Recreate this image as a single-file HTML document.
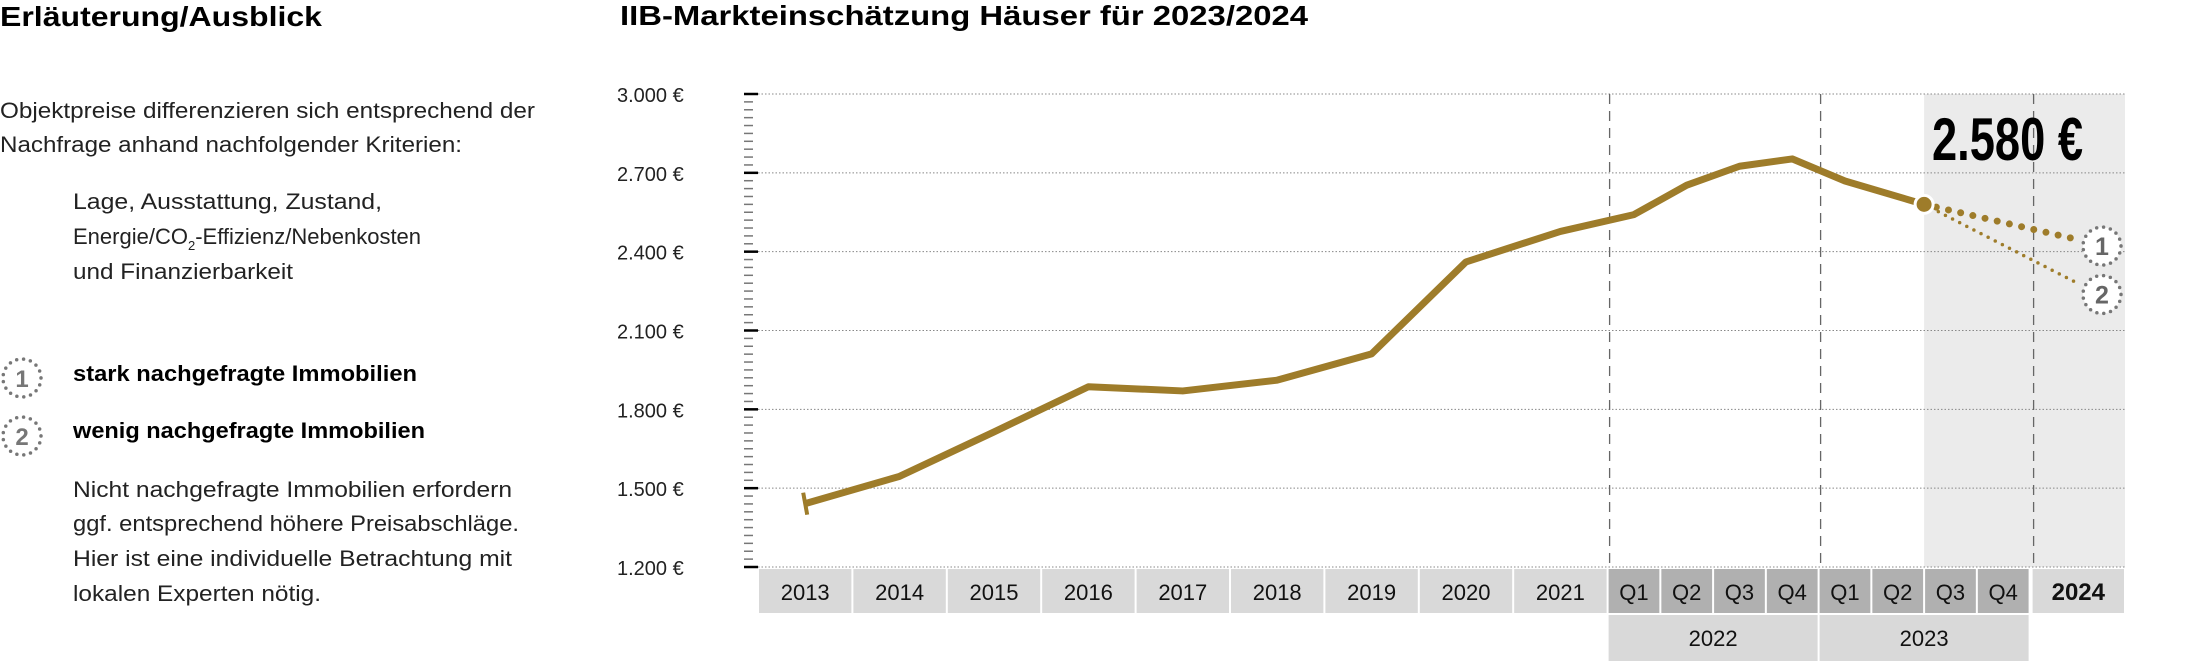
<!DOCTYPE html>
<html><head><meta charset="utf-8"><style>
html,body{margin:0;padding:0;background:#fff;}
svg{display:block;font-family:"Liberation Sans",sans-serif;}
</style></head><body>
<svg id="chart" width="2185" height="661" viewBox="0 0 2185 661" xmlns="http://www.w3.org/2000/svg">
<g>
<text x="0" y="26" font-size="28" font-weight="bold" textLength="322" lengthAdjust="spacingAndGlyphs">Erläuterung/Ausblick</text>
<text x="0" y="118" font-size="22" fill="#222" textLength="535" lengthAdjust="spacingAndGlyphs">Objektpreise differenzieren sich entsprechend der</text>
<text x="0" y="152" font-size="22" fill="#222" textLength="462" lengthAdjust="spacingAndGlyphs">Nachfrage anhand nachfolgender Kriterien:</text>
<text x="73" y="209" font-size="22" fill="#222" textLength="309" lengthAdjust="spacingAndGlyphs">Lage, Ausstattung, Zustand,</text>
<text x="73" y="244" font-size="22" fill="#222">Energie/CO<tspan font-size="13" dy="6">2</tspan><tspan dy="-6">-Effizienz/Nebenkosten</tspan></text>
<text x="73" y="279" font-size="22" fill="#222" textLength="220" lengthAdjust="spacingAndGlyphs">und Finanzierbarkeit</text>
<g>
<circle cx="22" cy="378" r="19" fill="#fff" stroke="#777" stroke-width="3.5" stroke-dasharray="0 7" stroke-linecap="round"/>
<text x="22" y="387" font-size="24" font-weight="bold" fill="#777" text-anchor="middle">1</text>
<text x="73" y="381" font-size="22" font-weight="bold" textLength="344" lengthAdjust="spacingAndGlyphs">stark nachgefragte Immobilien</text>
</g>
<g>
<circle cx="22" cy="436" r="19" fill="#fff" stroke="#777" stroke-width="3.5" stroke-dasharray="0 7" stroke-linecap="round"/>
<text x="22" y="445" font-size="24" font-weight="bold" fill="#777" text-anchor="middle">2</text>
<text x="73" y="438" font-size="22" font-weight="bold" textLength="352" lengthAdjust="spacingAndGlyphs">wenig nachgefragte Immobilien</text>
</g>
<text x="73" y="497" font-size="22" fill="#222" textLength="439" lengthAdjust="spacingAndGlyphs">Nicht nachgefragte Immobilien erfordern</text>
<text x="73" y="531" font-size="22" fill="#222" textLength="446" lengthAdjust="spacingAndGlyphs">ggf. entsprechend höhere Preisabschläge.</text>
<text x="73" y="566" font-size="22" fill="#222" textLength="439" lengthAdjust="spacingAndGlyphs">Hier ist eine individuelle Betrachtung mit</text>
<text x="73" y="601" font-size="22" fill="#222" textLength="248" lengthAdjust="spacingAndGlyphs">lokalen Experten nötig.</text>
</g>
<text x="620" y="25" font-size="28" font-weight="bold" textLength="688" lengthAdjust="spacingAndGlyphs">IIB-Markteinschätzung Häuser für 2023/2024</text>
<g id="plot"></g>
</svg>
<script>
const categories = ["2013","2014","2015","2016","2017","2018","2019","2020","2021","Q1","Q2","Q3","Q4","Q1","Q2"];
const values = [1441,1545,1714,1886,1870,1911,2011,2361,2477,2541,2653,2725,2753,2669,2580];
const forecastCategories = ["Q3","Q4","2024"];
const forecastHigh = 2444;
const forecastLow = 2275;
const yTicks = [1200,1500,1800,2100,2400,2700,3000];
const yTickLabels = ["1.200 €","1.500 €","1.800 €","2.100 €","2.400 €","2.700 €","3.000 €"];
const groupLabels = ["2022","2023"];
const currentLabel = "2.580 €";

const NS="http://www.w3.org/2000/svg";
const g=document.getElementById('plot');
function el(tag,attrs,parent){const e=document.createElementNS(NS,tag);for(const k in attrs)e.setAttribute(k,attrs[k]);(parent||g).appendChild(e);return e;}
const yMin=1200,yMax=3000,yBot=567,yTop=94;
function y(v){return yBot-(v-yMin)*(yBot-yTop)/(yMax-yMin);}
const left=758,yearW=94.4,qStart=758+9*94.4,qW=52.75;
const nYears=9;
// cell bounds for index i (0..8 years, 9..16 quarters, 17 = 2024)
function cellL(i){return i<nYears?left+i*yearW:(i<17?qStart+(i-nYears)*qW:qStart+8*qW+2);}
function cellR(i){return i<nYears?left+(i+1)*yearW:(i<17?qStart+(i-nYears+1)*qW:2125);}
function x(i){return (cellL(i)+cellR(i))/2;}

// background for forecast
let bg=el('rect',{x:cellR(nYears+5),y:yTop,width:2125-cellR(nYears+5),height:yBot-yTop,fill:'#ebebeb'});



// gridlines + y labels + ticks
yTicks.forEach((t,k)=>{
  const gl=el('line',{x1:left,x2:2125,y1:y(t),y2:y(t),stroke:'#888','stroke-width':1,'stroke-dasharray':'1.5 2'});
  
  
  const lb=el('text',{x:617,y:y(t)+8,'font-size':20,fill:'#222'});
  lb.textContent=yTickLabels[k];
  
  
});
for(let v=yMin;v<=yMax;v+=30){
  const major=(v-yMin)%300===0;
  const tk=el('line',{x1:744,x2:major?758:753,y1:y(v),y2:y(v),stroke:major?'#000':'#777','stroke-width':major?2.5:1.5});
  
  
}
// dashed separators
[nYears, nYears+4, nYears+8].forEach(i=>{
  const dl=el('line',{x1:cellL(i)+2,x2:cellL(i)+2,y1:yTop,y2:yBot,stroke:'#666','stroke-width':1.3,'stroke-dasharray':'10 7'});
  
  
});
// x-axis cells
const allCats=categories.concat(forecastCategories);
allCats.forEach((c,i)=>{
  const isQ=i>=nYears&&i<17;
  const r=el('rect',{x:cellL(i)+1,y:569,width:cellR(i)-cellL(i)-2,height:44,fill:isQ?'#b0b0b0':'#d9d9d9'});
  
  
  const t=el('text',{x:(cellL(i)+cellR(i))/2,y:600,'font-size':i===17?24:22,'font-weight':i===17?'bold':'normal','text-anchor':'middle',fill:'#111'});
  t.textContent=c;
  
  
});
groupLabels.forEach((lab,k)=>{
  const a=cellL(nYears+k*4), b=cellR(nYears+k*4+3);
  const r=el('rect',{x:a+1,y:615,width:b-a-2,height:46,fill:'#d9d9d9'});
  
  
  const t=el('text',{x:(a+b)/2,y:646,'font-size':22,'text-anchor':'middle',fill:'#111'});
  t.textContent=lab;
  
  
});
// main line
const last=values.length-1;
const pts=values.map((v,i)=>[i===last?cellR(i):x(i),y(v)]);
const line=el('polyline',{points:pts.map(p=>p.join(',')).join(' '),fill:'none',stroke:'#9e7c2a','stroke-width':7,'stroke-linejoin':'round'});


const cap=el('line',{x1:pts[0][0]-2,x2:pts[0][0]+2,y1:pts[0][1]-11,y2:pts[0][1]+11,stroke:'#9e7c2a','stroke-width':4});


// forecasts
const endX=2080, cx=2102;
const f1=el('line',{x1:pts[last][0],y1:pts[last][1],x2:endX,y2:y(forecastHigh),stroke:'#9e7c2a','stroke-width':7,'stroke-dasharray':'0 12.5','stroke-linecap':'round'});


const f2=el('line',{x1:pts[last][0],y1:pts[last][1],x2:endX,y2:y(forecastLow),stroke:'#9e7c2a','stroke-width':3.5,'stroke-dasharray':'0 8','stroke-linecap':'round'});


const dot=el('circle',{cx:pts[last][0],cy:pts[last][1],r:9,fill:'#9e7c2a',stroke:'#fff','stroke-width':3});


[[forecastHigh,'1'],[forecastLow,'2']].forEach(([v,n])=>{
  const cy=y(v)+(n==='1'?6:10);
  const c=el('circle',{cx:cx,cy:cy,r:19,fill:'#fff',stroke:'#777','stroke-width':3.5,'stroke-dasharray':'0 7','stroke-linecap':'round'});
  
  
  const t=el('text',{x:cx,y:cy+9,'font-size':25,'font-weight':'bold',fill:'#666','text-anchor':'middle'});
  t.textContent=n;
  
  
});
const big=el('text',{x:1932,y:160,'font-size':60,'font-weight':'bold',fill:'#000',textLength:151,lengthAdjust:'spacingAndGlyphs'});
big.textContent=currentLabel;


</script>
</body></html>
